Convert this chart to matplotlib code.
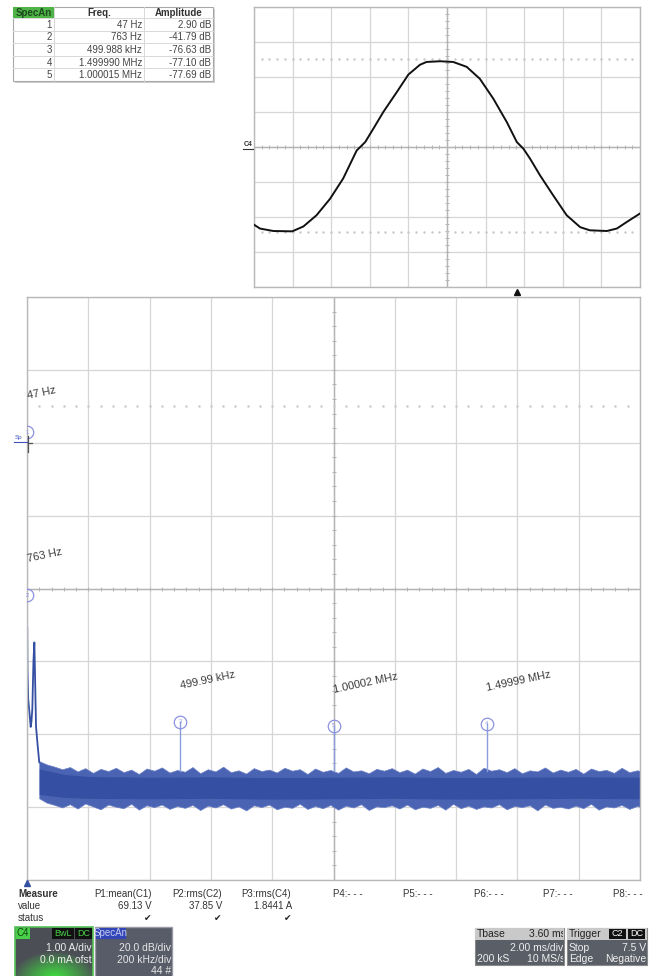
import matplotlib
matplotlib.use("Agg")
import matplotlib.pyplot as plt
import numpy as np
from matplotlib.patches import Rectangle

plt.rcParams['font.family'] = ['Liberation Sans', 'DejaVu Sans']

W, H = 649, 976

# ---------------- data ----------------
# upper panel: C4 current waveform (2 ms/div, 1 A/div)
time_ms = [0.00, 0.31, 1.00, 1.98, 2.56, 3.24, 3.94, 4.62, 5.32, 5.76, 6.18, 6.70,
           7.40, 8.00, 8.60, 8.94, 9.64, 10.32, 11.02, 11.70, 12.40, 13.10, 13.62,
           13.96, 14.30, 14.82, 15.50, 16.20, 16.90, 17.40, 18.28, 18.80, 19.32, 20.00]
current_A = [-2.22, -2.33, -2.40, -2.41, -2.27, -1.95, -1.48, -0.90, -0.10, 0.14, 0.52, 1.00,
             1.57, 2.07, 2.35, 2.43, 2.45, 2.43, 2.29, 1.95, 1.38, 0.71, 0.14,
             -0.05, -0.33, -0.81, -1.38, -1.95, -2.29, -2.38, -2.40, -2.33, -2.14, -1.90]
cursor_levels_A = [2.52, -2.43]

# lower panel: spectrum (200 kHz/div, 20 dB/div)
lowf_khz = [0.8, 1.5, 4.0, 8.0, 12.0, 14.5, 17.4, 21.0, 24.0, 26.5, 29.4, 35.0, 40.0]
lowf_db = [-50.7, -62.0, -70.4, -74.0, -78.0, -76.5, -73.0, -60.0, -54.8, -65.0, -77.8, -83.3, -87.7]

noise_khz = list(np.arange(40, 2016, 25))
noise_hi_db = [-87.4, -88.3, -88.9, -89.6, -89.0, -90.2, -89.3, -90.6, -89.5, -90.1,
               -89.2, -90.4, -89.7, -90.9, -89.4, -90.0, -89.1, -90.5, -89.8, -90.3,
               -89.0, -90.7, -89.6, -90.2, -88.9, -90.4, -89.9, -90.8, -89.3, -90.1,
               -89.7, -90.5, -89.2, -90.0, -89.6, -90.9, -89.4, -90.3, -89.8, -90.6,
               -89.1, -90.2, -89.9, -90.7, -89.5, -90.0, -89.3, -90.4, -89.7, -90.8,
               -89.4, -90.1, -89.0, -90.6, -89.8, -90.3, -89.5, -90.9, -89.2, -90.0,
               -89.6, -90.4, -89.3, -90.7, -89.9, -90.2, -89.1, -90.5, -89.7, -90.3,
               -89.5, -90.8, -89.4, -90.1, -89.8, -90.6, -89.2, -90.4, -89.9, -90.2]
noise_lo_db = [-97.6, -98.8, -99.4, -100.1, -99.2, -100.4, -99.0, -99.8, -100.6, -99.3,
               -99.9, -100.3, -99.1, -100.7, -99.5, -100.0, -99.3, -100.5, -99.7, -100.2,
               -99.4, -100.8, -99.6, -100.1, -99.2, -100.4, -99.8, -100.9, -99.5, -100.0,
               -99.3, -100.6, -99.9, -100.2, -99.1, -100.5, -99.7, -100.3, -99.4, -100.7,
               -99.6, -100.1, -99.2, -100.8, -99.8, -100.0, -99.5, -100.4, -99.3, -100.6,
               -99.9, -100.2, -99.4, -100.7, -99.1, -100.3, -99.6, -100.5, -99.8, -100.1,
               -99.2, -100.6, -99.7, -100.0, -99.5, -100.9, -99.3, -100.2, -99.9, -100.4,
               -99.6, -100.3, -99.1, -100.7, -99.8, -100.1, -99.4, -100.5, -99.7, -100.2]
core_khz = [40, 120, 200, 400, 600, 800, 1000, 1200, 1400, 1600, 1800, 2015]
core_hi_db = [-89.5, -91.0, -91.6, -91.8, -91.7, -91.9, -91.8, -91.7, -91.9, -91.8, -91.7, -91.8]
core_lo_db = [-96.5, -97.3, -97.6, -97.7, -97.6, -97.8, -97.7, -97.6, -97.8, -97.7, -97.6, -97.7]

peak_khz = [0.047, 0.763, 499.988, 1499.990, 1000.015]
peak_db = [2.90, -41.79, -76.63, -77.10, -77.69]
peak_num = ['1', '2', '3', '4', '5']
peak_label = ['47 Hz', '763 Hz', '499.99 kHz', '1.49999 MHz', '1.00002 MHz']
ref_dotted_db = 10.0

# table
table_head = ['SpecAn', 'Freq.', 'Amplitude']
table_idx = ['1', '2', '3', '4', '5']
table_freq = ['47 Hz', '763 Hz', '499.988 kHz', '1.499990 MHz', '1.000015 MHz']
table_amp = ['2.90 dB', '-41.79 dB', '-76.63 dB', '-77.10 dB', '-77.69 dB']

# measure section
meas_names = ['P1:mean(C1)', 'P2:rms(C2)', 'P3:rms(C4)', 'P4:- - -', 'P5:- - -',
              'P6:- - -', 'P7:- - -', 'P8:- - -']
meas_values = ['69.13 V', '37.85 V', '1.8441 A']

# ---------------- figure ----------------
fig = plt.figure(figsize=(W / 100, H / 100), dpi=100)
fig.patch.set_facecolor('white')


def rect(l, t, r, b):
    return [l / W, 1 - b / H, (r - l) / W, (b - t) / H]


GRID = '#d6d6d6'
CENTER = '#b4b4b4'
SPINE = '#b8b8b8'


def style_axes(ax, xlim, ylim, xstep, ystep, xc, yc, xminor, yminor):
    ax.set_xlim(*xlim)
    ax.set_ylim(*ylim)
    ax.set_xticks(np.arange(xlim[0], xlim[1] + 1e-9, xstep))
    ax.set_yticks(np.arange(ylim[0], ylim[1] + 1e-9, ystep))
    ax.tick_params(length=0, labelbottom=False, labelleft=False)
    ax.grid(True, color=GRID, lw=0.9)
    ax.set_axisbelow(True)
    for s in ax.spines.values():
        s.set_color(SPINE)
        s.set_linewidth(1.0)
    ax.axvline(xc, color=CENTER, lw=1.0, zorder=1)
    ax.axhline(yc, color=CENTER, lw=1.0, zorder=1)
    ax.plot([xc] * len(yminor), yminor, ls='none', marker='_', ms=3.5, mew=0.7,
            color=CENTER, zorder=1)
    ax.plot(xminor, [yc] * len(xminor), ls='none', marker='|', ms=3.5, mew=0.7,
            color=CENTER, zorder=1)


# upper waveform panel
ax_u = fig.add_axes(rect(254, 7, 640, 287))
style_axes(ax_u, (0, 20), (-4, 4), 2, 1, 10, 0,
           np.arange(0, 20.01, 0.4), np.arange(-4, 4.01, 0.2))
dot_t = np.arange(0.4, 20, 0.4)
for lvl in cursor_levels_A:
    ax_u.plot(dot_t, [lvl] * len(dot_t), ls='none',
              marker='.', ms=1.5, color='#c8c8c8', zorder=1)
ax_u.plot(time_ms, current_A, color='#111111', lw=1.4, zorder=3)

# lower spectrum panel
ax_m = fig.add_axes(rect(27, 297, 640, 880))
style_axes(ax_m, (0, 2000), (-120, 40), 200, 20, 1000, -40,
           np.arange(0, 2000.1, 40), np.arange(-120, 40.1, 4))
dot_f = np.arange(40, 2000, 40)
ax_m.plot(dot_f, [ref_dotted_db] * len(dot_f), ls='none',
          marker='.', ms=1.5, color='#c8c8c8', zorder=1)

BLUE = '#3550a2'
ax_m.fill_between(noise_khz, noise_lo_db, noise_hi_db, color='#4a63b2',
                  lw=0.5, ec='#6d82c8', zorder=2)
ax_m.fill_between(core_khz, core_lo_db, core_hi_db, color=BLUE, lw=0, zorder=2.1)
ax_m.plot(lowf_khz, lowf_db, color=BLUE, lw=1.3, zorder=2.2)

# spurs
for f, d in zip(peak_khz[2:], peak_db[2:]):
    ax_m.plot([f, f], [-90, d], color='#8a9ddc', lw=1.0, zorder=2.3)

MK = '#8c92e0'
for f, d, n, lab in zip(peak_khz, peak_db, peak_num, peak_label):
    ax_m.plot([f], [d], marker='o', ms=9, mfc='none', mec=MK, mew=0.9, zorder=4)
    ax_m.text(f, d, n, fontsize=4, color=MK, ha='center', va='center', zorder=4)
    ax_m.annotate(lab, (f, d), xytext=(1, 31), textcoords='offset pixels',
                  fontsize=8, color='#3c3c3c', rotation=12, rotation_mode='anchor',
                  ha='left', va='bottom', annotation_clip=False)

# ---------------- overlay (pixel coordinates) ----------------
ax_o = fig.add_axes([0, 0, 1, 1], zorder=5)
ax_o.set_xlim(0, W)
ax_o.set_ylim(H, 0)
ax_o.axis('off')


def clipped_text(x, y, s, box, **kw):
    t = ax_o.text(x, y, s, **kw)
    t.set_clip_path(Rectangle(box[:2], box[2], box[3], transform=ax_o.transData))
    t.set_clip_on(True)
    return t


# table
cx = [13, 54, 144, 213]
ry = [7, 18, 31, 43, 56, 68, 81]
ax_o.add_patch(Rectangle((cx[0] + 1.5, ry[0] + 1.5), cx[3] - cx[0], ry[-1] - ry[0],
                         fc='#d0d0d0', ec='none'))
ax_o.add_patch(Rectangle((cx[0], ry[0]), cx[3] - cx[0], ry[-1] - ry[0], fc='white',
                         ec='#a8a8a8', lw=0.8))
ax_o.add_patch(Rectangle((cx[0], ry[0]), cx[1] - cx[0], ry[1] - ry[0], fc='#4fb447',
                         ec='none'))
for x in cx[1:3]:
    ax_o.plot([x, x], [ry[0], ry[-1]], color='#d8d8d8', lw=0.7)
for y in ry[1:-1]:
    ax_o.plot([cx[0], cx[3]], [y, y], color='#d8d8d8', lw=0.7)
hc = [(cx[0] + cx[1]) / 2, (cx[1] + cx[2]) / 2, (cx[2] + cx[3]) / 2]
for i, h in enumerate(table_head):
    ax_o.text(hc[i], (ry[0] + ry[1]) / 2 + 0.5, h, fontsize=7, fontweight='bold',
              color='#1e4a1e' if i == 0 else '#333333', ha='center', va='center')
for k in range(5):
    yc = (ry[k + 1] + ry[k + 2]) / 2 + 0.5
    ax_o.text(cx[1] - 2, yc, table_idx[k], fontsize=7, color='#444444', ha='right', va='center')
    ax_o.text(cx[2] - 2, yc, table_freq[k], fontsize=7, color='#444444', ha='right', va='center')
    ax_o.text(cx[3] - 2, yc, table_amp[k], fontsize=7, color='#444444', ha='right', va='center')

# C4 label on upper panel
ax_o.text(248, 145, 'C4', fontsize=5, fontweight='bold', color='#333333', ha='center',
          va='center')
ax_o.plot([243, 253], [149, 149], color='#333333', lw=0.8)

# trigger marker and zero marker
ax_o.plot([517], [292], marker='^', ms=4, color='#111111')
ax_o.plot([27], [883], marker='^', ms=4, color='#3550a2')

# Sp reference marker
ax_o.text(19, 438, 'Sp', fontsize=4.5, color='#4050c0', ha='center', va='center')
ax_o.plot([14, 27], [442, 442], color='#4050c0', lw=0.8)
ax_o.plot([28, 28], [436, 452], color='#555555', lw=0.9)
ax_o.plot([28, 32], [443, 443], color='#555555', lw=0.9)

# measure section
ax_o.text(18, 894, 'Measure', fontsize=7, fontweight='bold', color='#333333', ha='left',
          va='center')
ax_o.text(18, 906, 'value', fontsize=7, color='#333333', ha='left', va='center')
ax_o.text(18, 918, 'status', fontsize=7, color='#333333', ha='left', va='center')
m_left = [94, 172, 241, 333, 403, 474, 543, 613]
m_right = [152, 222, 292]
for i, name in enumerate(meas_names):
    ax_o.text(m_left[i], 894, name, fontsize=7, color='#333333', ha='left', va='center')
for i, v in enumerate(meas_values):
    ax_o.text(m_right[i], 906, v, fontsize=7, color='#333333', ha='right', va='center')
    ax_o.text(m_right[i] - 4, 919, '\u2714', fontsize=6.5, color='#222222', ha='center',
              va='center', family=['DejaVu Sans'])

# C4 box
ax_o.add_patch(Rectangle((15, 927), 78, 50, fc='#4b4f55', ec='#54c254', lw=1.2))
yy, xx = np.mgrid[0:40, 0:78]
r = np.sqrt(((xx - 39) / 42.0) ** 2 + ((yy - 40) / 26.0) ** 2)
alpha = np.clip(1 - r, 0, 1) ** 0.9
glow = np.zeros((40, 78, 4))
glow[..., 0] = 0.25
glow[..., 1] = 0.88
glow[..., 2] = 0.25
glow[..., 3] = alpha
ax_o.imshow(glow, extent=[15, 93, 977, 937], origin='upper', aspect='auto', zorder=2)
ax_o.add_patch(Rectangle((16, 928), 14, 11, fc='#49d049', ec='none', zorder=3))
ax_o.text(23, 933.5, 'C4', fontsize=7, color='#114411', ha='center', va='center', zorder=4)
ax_o.add_patch(Rectangle((52, 928), 22, 11, fc='#111111', ec='none', zorder=3))
ax_o.text(63, 933.5, 'BwL', fontsize=6.5, color='#49d049', ha='center', va='center', zorder=4)
ax_o.add_patch(Rectangle((75, 928), 17, 11, fc='#111111', ec='none', zorder=3))
ax_o.text(83.5, 933.5, 'DC', fontsize=6.5, color='#49d049', ha='center', va='center', zorder=4)
ax_o.text(92, 948, '1.00 A/div', fontsize=7.5, color='#eeeeee', ha='right', va='center',
          zorder=4)
clipped_text(40, 960, '0.0 mA ofst', (15, 927, 77, 50), fontsize=7.5, color='#eeeeee',
             ha='left', va='center', zorder=4)

# SpecAn box
ax_o.add_patch(Rectangle((95, 927), 77, 50, fc='#585c68', ec='#9a9aa6', lw=1.0))
ax_o.add_patch(Rectangle((96, 928), 30, 11, fc='#3346b8', ec='none', zorder=3))
ax_o.text(111, 933.5, 'SpecAn', fontsize=7, color='#c8ccf0', ha='center', va='center', zorder=4)
ax_o.text(171, 948, '20.0 dB/div', fontsize=7.5, color='#e6e6e6', ha='right', va='center')
ax_o.text(171, 960, '200 kHz/div', fontsize=7.5, color='#e6e6e6', ha='right', va='center')
ax_o.text(171, 971, '44 #', fontsize=7.5, color='#e6e6e6', ha='right', va='center')

# Tbase box
ax_o.add_patch(Rectangle((475, 928), 89, 37, fc='#5a5e66', ec='#8a8a8a', lw=0.8))
ax_o.add_patch(Rectangle((475, 928), 89, 12, fc='#c9c9c9', ec='none', zorder=2))
ax_o.text(477, 934, 'Tbase', fontsize=7.5, color='#222222', ha='left', va='center', zorder=3)
clipped_text(566, 934, '3.60 ms', (475, 928, 88, 12), fontsize=7.5, color='#222222',
             ha='right', va='center', zorder=3)
ax_o.text(563, 948, '2.00 ms/div', fontsize=7.5, color='#eeeeee', ha='right', va='center')
ax_o.text(477, 959, '200 kS', fontsize=7.5, color='#eeeeee', ha='left', va='center')
clipped_text(565, 959, '10 MS/s', (475, 928, 88, 37), fontsize=7.5, color='#eeeeee',
             ha='right', va='center')

# Trigger box
ax_o.add_patch(Rectangle((567, 928), 80, 37, fc='#5a5e66', ec='#8a8a8a', lw=0.8))
ax_o.add_patch(Rectangle((567, 928), 80, 12, fc='#c9c9c9', ec='none', zorder=2))
ax_o.text(569, 934, 'Trigger', fontsize=7.5, color='#222222', ha='left', va='center', zorder=3)
ax_o.add_patch(Rectangle((609, 929), 17, 10, fc='#111111', ec='none', zorder=3))
ax_o.text(617.5, 934, 'C2', fontsize=6.5, color='#ffffff', ha='center', va='center', zorder=4)
ax_o.add_patch(Rectangle((628, 929), 17, 10, fc='#111111', ec='none', zorder=3))
ax_o.text(636.5, 934, 'DC', fontsize=6.5, color='#ffffff', ha='center', va='center', zorder=4)
ax_o.text(569, 948, 'Stop', fontsize=7.5, color='#eeeeee', ha='left', va='center')
ax_o.text(646, 948, '7.5 V', fontsize=7.5, color='#eeeeee', ha='right', va='center')
ax_o.text(569, 959, 'Edge', fontsize=7.5, color='#eeeeee', ha='left', va='center')
ax_o.text(646, 959, 'Negative', fontsize=7.5, color='#eeeeee', ha='right', va='center')

ax_o.set_xlim(0, W)
ax_o.set_ylim(H, 0)

fig.savefig('out.png', dpi=100, facecolor='white')
